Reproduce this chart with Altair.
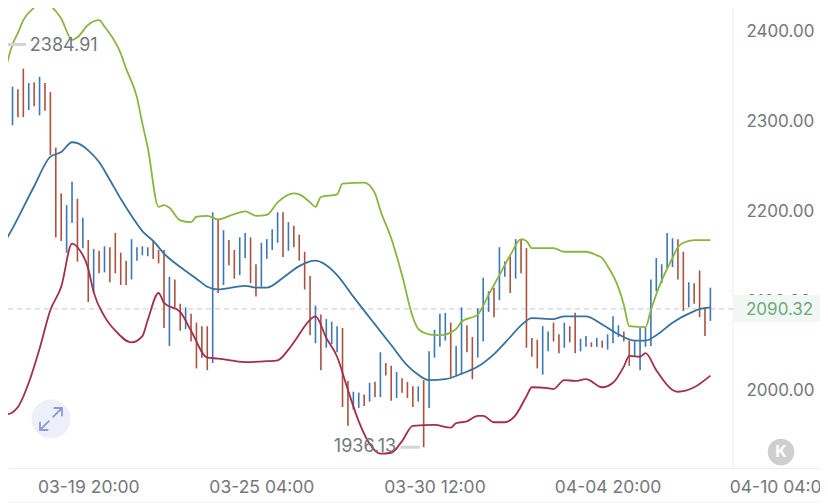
import altair as alt
import pandas as pd

START = pd.Timestamp("2024-03-17T04:00:00Z")
BAR_HOURS = 4

highs = [2384.91,2375,2338,2335,2358,2342,2343,2349,2342,2332,2270,2219,2206,2232,2213,2192,2167,2157,2155,2160,
         2159,2175,2153,2144,2168,2159,2160,2159,2167,2156,2156,2126,2123,2096,2092,2085,2075,2071,2071,2198,
         2190,2178,2167,2156,2170,2175,2170,2140,2164,2168,2179,2198,2198,2187,2183,2173,2154,2127,2094,2084,
         2079,2076,2071,2069,2010,1998,1997,1995,2008,2009,2042,2030,2027,2020,2013,2009,2004,2004,2011,2043,
         2067,2085,2086,2075,2049,2092,2072,2059,2091,2125,2110,2114,2159,2143,2149,2168,2167,2158,2058,2056,
         2071,2065,2075,2062,2075,2071,2086,2057,2060,2053,2058,2055,2062,2082,2072,2065,2055,2054,2069,2069,
         2123,2147,2140,2175,2169,2168,2154,2120,2119,2133,2092,2114]
lows = [2323,2309,2295,2304,2304,2312,2316,2306,2311,2262,2170,2166,2153,2186,2143,2158,2098,2108,2130,2131,
        2120,2130,2117,2117,2123,2144,2150,2149,2146,2141,2069,2049,2092,2066,2068,2054,2024,2036,2022,2030,
        2108,2117,2139,2124,2128,2147,2119,2104,2115,2146,2156,2164,2148,2155,2159,2144,2112,2061,2052,2022,
        2047,2051,2042,1981,1960,1978,1980,1982,1987,1992,1992,2016,1988,1991,1997,1991,1981,1987,1936.13,1980,
        2036,2048,2055,2014,2016,2017,2042,2012,2036,2054,2087,2081,2100,2126,2108,2124,2130,2047,2037,2024,
        2017,2043,2054,2041,2047,2053,2041,2043,2048,2048,2048,2047,2045,2052,2059,2054,2027,2037,2022,2048,
        2049,2110,2119,2136,2137,2123,2088,2092,2096,2081,2060,2077]
directions = ["b","r","b","r","r","b","r","b","r","r","r","r","b","b","r","b","r","b","r","b",
              "r","r","r","r","b","b","b","b","r","r","r","b","r","r","b","r","r","r","r","b",
              "r","b","r","r","b","b","r","r","b","b","b","b","r","b","r","r","r","r","b","r",
              "b","b","b","r","r","b","b","r","b","r","b","r","r","b","r","r","r","b","r","b",
              "b","b","b","r","b","b","r","r","b","b","b","r","b","b","r","b","r","r","r","r",
              "b","b","r","r","b","r","r","b","b","r","b","r","b","b","b","r","r","b","b","b",
              "b","b","b","b","b","r","r","b","r","r","r","b"]

upper_i = [0,1,2,3,4,6,8,10,11,13,14,16,18,19,22,23,25,26,27,29,30,31,33,35,36,38,40,43,45,47,49,51,54,55,57,58,59,62,63,67,69,70,72,74,76,77,79,81,84,85,88,90,92,94,96,97,98,102,104,108,110,111,112,114,115,116,119,120,122,124,125,126,128,131]
upper_v = [2336,2364,2385,2398,2412,2426,2432,2422,2414,2390,2393,2407,2412,2405,2375,2358,2326,2297,2270,2204,2206,2203,2189,2187,2193,2194,2190,2196,2199,2194,2195,2209,2219,2218,2209,2204,2215,2218,2230,2231,2219,2200,2169,2128,2081,2068,2062,2061,2068,2076,2084,2106,2128,2150,2168,2166,2158,2158,2154,2154,2150,2147,2138,2114,2095,2071,2070,2089,2122,2147,2159,2164,2167,2167]

mid_i = [0,2,6,9,11,13,14,16,18,20,22,24,26,28,30,33,36,38,40,45,47,49,52,55,58,60,62,65,69,72,75,77,79,82,85,88,91,94,96,98,102,104,108,111,114,117,119,121,124,127,129,131]
mid_v = [2159,2180,2227,2260,2265,2276,2275,2267,2254,2234,2213,2194,2177,2166,2152,2137,2124,2115,2112,2116,2114,2114,2125,2138,2144,2139,2128,2104,2073,2050,2027,2017,2011,2012,2018,2026,2040,2059,2072,2080,2079,2082,2082,2073,2062,2055,2055,2061,2075,2085,2090,2092]

lower_i = [0,1,3,5,7,9,11,13,14,16,17,19,21,24,26,27,29,30,33,35,38,40,45,49,51,53,55,56,58,60,62,64,66,68,70,72,74,76,80,83,84,86,88,89,91,93,95,97,98,101,102,104,106,108,111,113,115,116,118,119,121,124,125,128,131]
lower_v = [1974,1973,1981,2008,2046,2089,2115,2163,2159,2135,2109,2082,2066,2053,2060,2078,2108,2097,2087,2066,2036,2035,2031,2032,2033,2045,2062,2071,2082,2058,2037,2000,1965,1940,1929,1930,1943,1960,1961,1958,1963,1965,1971,1971,1964,1964,1972,1993,2003,2002,2001,2011,2010,2012,2003,2008,2026,2038,2037,2041,2022,2000,1998,2003,2016]

y_ticks = [2000, 2100, 2200, 2300, 2400]
x_tick_bars = [16, 48, 80, 112, 144]
high_label, low_label, last_price = 2384.91, 1936.13, 2090.32

FONT = "Inter"
GREY = "#74777c"
FS = 17


def t(i):
    return (START + pd.Timedelta(hours=BAR_HOURS * i)).isoformat().replace("+00:00", "Z")


def ms(i):
    return int((START + pd.Timedelta(hours=BAR_HOURS * i)).timestamp() * 1000)


bars = pd.DataFrame({"t": [t(i) for i in range(len(highs))], "high": highs, "low": lows, "dir": directions})
bands = pd.concat([
    pd.DataFrame({"t": [t(i) for i in upper_i], "v": upper_v, "band": "upper"}),
    pd.DataFrame({"t": [t(i) for i in mid_i], "v": mid_v, "band": "mid"}),
    pd.DataFrame({"t": [t(i) for i in lower_i], "v": lower_v, "band": "lower"}),
])

xscale = alt.Scale(type="utc", domain=[ms(1.165), ms(151.26)])
yscale = alt.Scale(domain=[1872.9, 2425.6], nice=False, zero=False)
XA = alt.Axis(values=[ms(i) for i in x_tick_bars], format="%m-%d %H:%M", grid=False, ticks=False,
              domainColor="#eeeeee", labelFont=FONT, labelFontSize=17.5, labelColor=GREY, offset=-36,
              labelPadding=10, labelOverlap=False, labelFlush=False, title=None)
YA = alt.Axis(orient="right", offset=-74, values=y_ticks, format=".2f", grid=False, ticks=False, domain=False,
              labelFont=FONT, labelFontSize=FS, labelColor=GREY, labelPadding=0, labelOffset=1, title=None)


def X(f="t:T"):
    return alt.X(f, scale=xscale, axis=XA)


def Y(f="v:Q"):
    return alt.Y(f, scale=yscale, axis=YA)


one = pd.DataFrame({"a": [0]})
sep = alt.Chart(one).mark_rule(color="#eeeeee", strokeWidth=1).encode(
    x=alt.value(725), y=alt.value(0), y2=alt.value(460))
bottom = alt.Chart(one).mark_rule(color="#f3f3f3", strokeWidth=1).encode(
    x=alt.value(0), x2=alt.value(812), y=alt.value(494))

tag = alt.Chart(pd.DataFrame({"hi": [2105.8], "lo": [2075.8]})).mark_rect(color="#f1f8f3").encode(
    x=alt.value(725), x2=alt.value(812), y=Y("hi:Q"), y2="lo:Q")
price_line = alt.Chart(pd.DataFrame({"v": [last_price]})).mark_rule(
    color="#c9c9c9", strokeWidth=1, strokeDash=[5, 4]).encode(
    y=Y(), x=alt.value(0), x2=alt.value(725))
tag_text = alt.Chart(pd.DataFrame({"v": [last_price], "s": ["2090.32"]})).mark_text(
    align="left", baseline="middle", font=FONT, fontSize=FS, color="#6fa883", dy=1).encode(
    y=Y(), x=alt.value(738), text="s:N")

wicks = alt.Chart(bars).mark_rule(strokeWidth=1.6, clip=True).encode(
    x=X(),
    y=Y("high:Q"),
    y2="low:Q",
    color=alt.Color("dir:N", scale=alt.Scale(domain=["r", "b"], range=["#a9523f", "#3d76b6"]), legend=None))

lines = alt.Chart(bands).mark_line(strokeWidth=1.8, clip=True, interpolate="monotone").encode(
    x=X(),
    y=Y(),
    detail="band:N",
    color=alt.Color("band:N", scale=alt.Scale(domain=["upper", "mid", "lower"],
                                              range=["#8ab540", "#37729f", "#a22f4c"]), legend=None))

high_mark = alt.Chart(pd.DataFrame({"t": [t(0.05)], "t2": [t(4.5)], "v": [high_label]})).mark_rule(
    color="#d4d4d4", strokeWidth=3, clip=True).encode(x=X(), x2="t2:T", y=Y())
high_text = alt.Chart(pd.DataFrame({"t": [t(5.2)], "v": [high_label], "s": ["2384.91"]})).mark_text(
    align="left", baseline="middle", font=FONT, fontSize=18, color=GREY, dy=1).encode(x=X(), y=Y(), text="s:N")
low_mark = alt.Chart(pd.DataFrame({"t": [t(73.7)], "t2": [t(77.3)], "v": [low_label]})).mark_rule(
    color="#d4d4d4", strokeWidth=3).encode(x=X(), x2="t2:T", y=Y())
low_text = alt.Chart(pd.DataFrame({"t": [t(72.9)], "v": [low_label], "s": ["1936.13"]})).mark_text(
    align="right", baseline="middle", font=FONT, fontSize=18, color=GREY).encode(x=X(), y=Y(), text="s:N")

ARROWS = "M0.15,-0.15L1,-1M0.25,-1L1,-1L1,-0.25M-0.15,0.15L-1,1M-1,0.25L-1,1L-0.25,1"
expand_bg = alt.Chart(one).mark_circle(color="#edf0f8", opacity=1, size=1520).encode(
    x=alt.value(43), y=alt.value(411))
expand_icon = alt.Chart(one).mark_point(shape=ARROWS, stroke="#8d9ccf", strokeWidth=1.8, filled=False,
                                        size=484, opacity=1).encode(x=alt.value(43), y=alt.value(411))
k_bg = alt.Chart(one).mark_circle(color="#cfcfcf", opacity=1, size=707).encode(
    x=alt.value(773), y=alt.value(444))
k_text = alt.Chart(pd.DataFrame({"s": ["K"]})).mark_text(
    font=FONT, fontSize=16, fontWeight="bold", color="#ffffff", baseline="middle", align="center").encode(
    x=alt.value(773), y=alt.value(444), text="s:N")

chart = alt.layer(
    sep, bottom, tag, price_line, tag_text, wicks, lines,
    high_mark, high_text, low_mark, low_text, expand_bg, expand_icon, k_bg, k_text,
).resolve_scale(color="independent").properties(
    width=812, height=496, background="#ffffff",
    padding={"left": 0, "right": 0, "top": 0, "bottom": 0},
    autosize=alt.AutoSizeParams(type="none"),
).configure_view(stroke=None)

chart.save("out.html", embed_options={"renderer": "svg", "actions": False})
